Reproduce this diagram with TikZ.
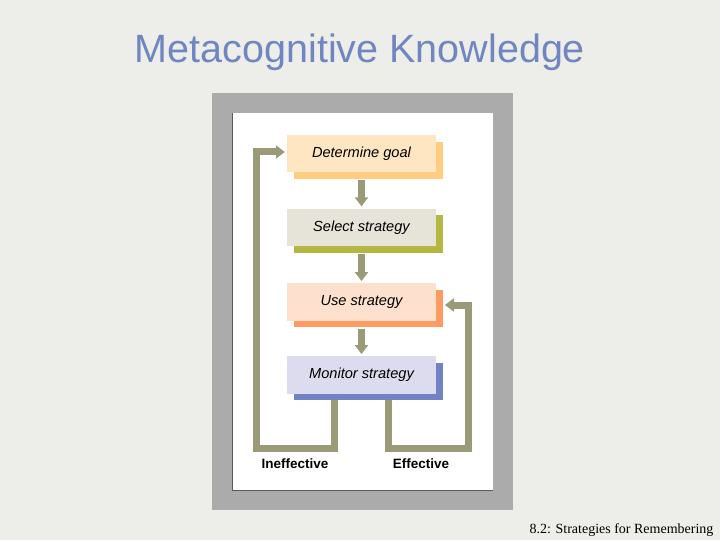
\documentclass[tikz,border=0pt]{standalone}
\usepackage{fontspec}
\setmainfont{Liberation Sans}
\newfontfamily\serifft{Liberation Serif}
\usetikzlibrary{arrows.meta,shadows,calc}
\definecolor{bgc}{HTML}{EDEDE9}
\definecolor{framec}{HTML}{ABABAB}
\definecolor{titlec}{HTML}{6F86C0}
\definecolor{arrc}{HTML}{9A9A78}
\definecolor{dgF}{HTML}{FFE6C2}
\definecolor{dgS}{HTML}{FFCC80}
\definecolor{ssF}{HTML}{E6E4D8}
\definecolor{ssS}{HTML}{B4B842}
\definecolor{usF}{HTML}{FDE1CE}
\definecolor{usS}{HTML}{FF9A62}
\definecolor{msF}{HTML}{DCDCEE}
\definecolor{msS}{HTML}{7282C2}
\tikzset{
  stepbox/.style={minimum width=149pt,minimum height=37.5pt,inner sep=0pt,
    font=\fontsize{14.6}{16}\selectfont\itshape,text=black},
  flowarr/.style={draw=arrc,line width=7pt,-{Triangle[width=13pt,length=9pt]}},
  loopline/.style={draw=arrc,line width=7pt,miter limit=10,-{Triangle[width=13pt,length=9pt]}},
  looplabel/.style={font=\fontsize{13.5}{15}\selectfont\bfseries,anchor=base,text=black,inner sep=0pt}
}
\begin{document}
\begin{tikzpicture}[x=1pt,y=-1pt]
\useasboundingbox (0,0) rectangle (720,540);
\fill[bgc] (0,0) rectangle (720,540);
\node[anchor=base,text=titlec,font=\fontsize{39.5}{44}\selectfont,inner sep=0pt] (title) at (360,63) {Metacognitive Knowledge};
% frame
\fill[framec] (212,93) rectangle (513,510);
\fill[white] (232,113) rectangle (493,491);
\draw[black!65,line width=0.8pt] (232.4,113) -- (232.4,490.6) -- (493,490.6);
% boxes
\node[stepbox,fill=dgF,general shadow={fill=dgS,shadow xshift=6.5pt,shadow yshift=-7pt}] (d) at (361.5,153.5) {Determine goal};
\node[stepbox,fill=ssF,general shadow={fill=ssS,shadow xshift=6.5pt,shadow yshift=-6.5pt}] (s) at (361.5,227.3) {Select strategy};
\node[stepbox,fill=usF,general shadow={fill=usS,shadow xshift=6.5pt,shadow yshift=-6.5pt}] (u) at (361.5,302) {Use strategy};
\node[stepbox,fill=msF,general shadow={fill=msS,shadow xshift=6.5pt,shadow yshift=-6.5pt}] (m) at (361.5,375) {Monitor strategy};
% down arrows
\draw[flowarr] ([yshift=-8pt]d.south) -- ([yshift=2pt]s.north);
\draw[flowarr] ([yshift=-8pt]s.south) -- ([yshift=2pt]u.north);
\draw[flowarr] ([yshift=-8pt]u.south) -- ([yshift=2pt]m.north);
% loops
\coordinate (lb) at (256,448);
\coordinate (rb) at (468,448);
\coordinate (rt) at (468,305);
\draw[loopline] ([xshift=-27.5pt,yshift=-6pt]m.south) |- (lb) |- ([xshift=-2pt,yshift=1.5pt]d.west);
\draw[loopline] ([xshift=26.5pt,yshift=-6pt]m.south) |- (rb) -- (rt) -- (445,305);
% labels
\node[looplabel] (ineff) at (295,468) {Ineffective};
\node[looplabel] (eff) at (421,468) {Effective};
% footer
\node[anchor=base,font=\serifft\fontsize{14}{16}\selectfont,inner sep=0pt] (foot) at (621.5,533) {8.2: Strategies for Remembering};
\end{tikzpicture}
\end{document}
